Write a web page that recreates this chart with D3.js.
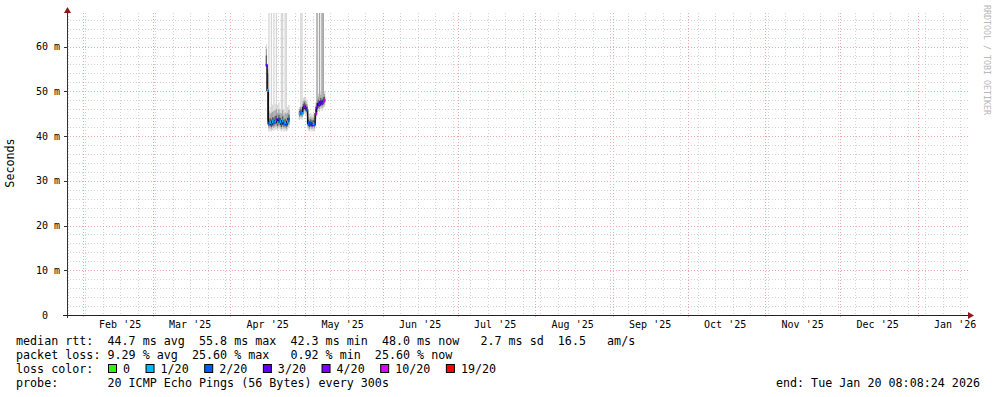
<!DOCTYPE html>
<html><head><meta charset="utf-8">
<script src="https://cdn.jsdelivr.net/npm/d3@7"></script>
<style>
body{margin:0;background:#fff}
svg text{font-family:'DejaVu Sans Mono',monospace;white-space:pre}
</style>
</head><body>
<svg id="c" width="997" height="397"></svg>
<script>
// ---------- data ----------
const startTime = "2025-01-25T08:08:24";
const endTime   = "2026-01-20T08:08:24";
const yMaxMs = 67.5;
const yTicks = [0, 10, 20, 30, 40, 50, 60];
const yTickLabels = ["0  ", "10 m", "20 m", "30 m", "40 m", "50 m", "60 m"];
const monthTicks = ["2025-02-01","2025-03-01","2025-04-01","2025-05-01","2025-06-01","2025-07-01","2025-08-01","2025-09-01","2025-10-01","2025-11-01","2025-12-01","2026-01-01"];
const monthLabels = ["Feb '25","Mar '25","Apr '25","May '25","Jun '25","Jul '25","Aug '25","Sep '25","Oct '25","Nov '25","Dec '25","Jan '26"];

const stepHours = 12;
const times = [
 "2025-04-15T06:00","2025-04-15T18:00","2025-04-16T06:00","2025-04-16T18:00","2025-04-17T06:00","2025-04-17T18:00",
 "2025-04-18T06:00","2025-04-18T18:00","2025-04-19T06:00","2025-04-19T18:00","2025-04-20T06:00","2025-04-20T18:00",
 "2025-04-21T06:00","2025-04-21T18:00","2025-04-22T06:00","2025-04-22T18:00","2025-04-23T06:00","2025-04-23T18:00",
 "2025-04-24T06:00","2025-04-24T18:00",
 "2025-04-28T12:00","2025-04-29T00:00","2025-04-29T12:00","2025-04-30T00:00","2025-04-30T12:00","2025-05-01T00:00",
 "2025-05-01T12:00","2025-05-02T00:00","2025-05-02T12:00","2025-05-03T00:00","2025-05-03T12:00","2025-05-04T00:00",
 "2025-05-04T12:00","2025-05-05T00:00","2025-05-05T12:00","2025-05-06T00:00","2025-05-06T12:00","2025-05-07T00:00",
 "2025-05-07T12:00","2025-05-08T00:00","2025-05-08T12:00"
];
// median rtt (ms); null = no data
const median = [
 55.8, 50.2, 42.8, 43.0, 42.6, 43.2, 43.0, 43.4, 43.6, 43.0, 43.8, 43.2, 42.7, 43.4, 42.8, 43.0, 42.6, 43.2, 43.8, null,
 45.0, 45.2, 45.0, 46.3, 46.6, 46.2, 45.8, 42.8, 42.5, 42.9, 42.5, 42.8, 42.6, 45.0, 46.4, 47.2, 47.0, 47.6, 47.3, 47.8, 48.0
];
// lost pings out of 20
const loss = [
 3, 1, 2, 1, 2, 1, 2, 1, 3, 1, 2, 1, 2, 1, 2, 1, 2, 1, 2, 0,
 1, 2, 1, 3, 4, 3, 2, 2, 4, 2, 3, 1, 2, 10, 4, 3, 4, 3, 4, 2, 10
];
// smoke: outer (light) band
const smokeLo = [
 55.5, 42.5, 41.0, 41.2, 41.0, 41.3, 41.2, 41.4, 41.5, 41.2, 41.6, 41.3, 41.0, 41.4, 41.0, 41.2, 41.0, 41.3, 41.8, null,
 43.6, 43.8, 43.6, 44.8, 45.0, 44.8, 44.4, 41.2, 41.0, 41.3, 41.0, 41.2, 41.0, 43.5, 44.8, 45.6, 45.4, 46.0, 45.6, 46.2, 46.5
];
const smokeHi = [
 60.5, 56.0, 68.0, 46.5, 68.0, 47.0, 68.0, 47.2, 68.0, 47.0, 47.5, 46.0, 68.0, 68.0, 46.0, 68.0, 68.0, 46.5, 47.0, null,
 46.5, 68.0, 68.0, 48.5, 48.8, 48.5, 48.0, 45.0, 45.0, 45.2, 44.8, 45.0, 44.8, 47.5, 68.0, 49.5, 68.0, 50.0, 68.0, 68.0, 50.0
];
// smoke: middle band
const midLo = [
 55.7, 43.0, 41.7, 41.9, 41.6, 42.0, 41.8, 42.1, 42.2, 41.8, 42.3, 42.0, 41.6, 42.1, 41.7, 41.8, 41.6, 42.0, 42.5, null,
 44.2, 44.4, 44.2, 45.4, 45.7, 45.4, 45.0, 41.9, 41.6, 42.0, 41.6, 41.9, 41.7, 44.1, 45.4, 46.3, 46.0, 46.6, 46.3, 46.8, 47.0
];
const midHi = [
 59.5, 55.0, 45.5, 45.0, 45.2, 45.4, 45.6, 45.8, 46.0, 45.2, 46.0, 45.2, 45.0, 45.8, 44.8, 45.2, 45.0, 45.2, 45.8, null,
 46.0, 46.6, 46.2, 47.8, 48.0, 47.8, 47.2, 44.2, 44.0, 44.3, 44.0, 44.2, 44.0, 46.6, 68.0, 48.8, 68.0, 49.2, 68.0, 68.0, 49.4
];
// smoke: dense core band
const coreLo = [
 55.8, 43.5, 42.2, 42.4, 42.0, 42.5, 42.3, 42.7, 42.8, 42.3, 42.9, 42.5, 42.0, 42.7, 42.1, 42.3, 42.0, 42.5, 43.0, null,
 44.6, 44.8, 44.6, 45.8, 46.1, 45.8, 45.4, 42.3, 42.0, 42.4, 42.0, 42.3, 42.1, 44.5, 45.9, 46.7, 46.5, 47.1, 46.8, 47.3, 47.5
];
const coreHi = [
 58.0, 54.0, 43.8, 44.0, 43.7, 44.2, 44.1, 44.5, 44.6, 43.9, 44.8, 44.1, 43.6, 44.4, 43.6, 43.9, 43.5, 44.1, 44.8, null,
 45.6, 46.0, 45.7, 47.2, 47.5, 47.1, 46.6, 43.6, 43.4, 43.7, 43.4, 43.6, 43.4, 46.0, 47.4, 48.1, 47.9, 48.5, 48.2, 48.7, 48.8
];

const lossClasses = [0, 1, 2, 3, 4, 10, 19];
const lossLabels = ["0", "1/20", "2/20", "3/20", "4/20", "10/20", "19/20"];
const lossColors = ["#26ff00", "#00b8ff", "#0059ff", "#5e00ff", "#7e00ff", "#dd00ff", "#ff0000"];

const legendRtt  = "median rtt:  44.7 ms avg  55.8 ms max  42.3 ms min  48.0 ms now   2.7 ms sd  16.5   am/s";
const legendLoss = "packet loss: 9.29 % avg  25.60 % max   0.92 % min  25.60 % now";
const legendProbe = "probe:       20 ICMP Echo Pings (56 Bytes) every 300s";
const legendEnd = "end: Tue Jan 20 08:08:24 2026";

// ---------- drawing ----------
const svg = d3.select("#c");
const X0 = 67, X1 = 967, Y0 = 315, Y1 = 13;
const x = d3.scaleTime().domain([new Date(startTime), new Date(endTime)]).range([66, 966]);
const y = d3.scaleLinear().domain([0, yMaxMs]).range([Y0, Y1]);
const pt = s => new Date(s);
const lf = 11.7;

// grid
const grid = svg.append("g");
const minorY = d3.range(2, yMaxMs, 2).filter(v => v % 10 !== 0);
grid.selectAll(".hy").data(minorY).enter().append("line")
  .attr("x1", X0).attr("x2", X1 + 1).attr("y1", d => Math.round(y(d)) + 0.5).attr("y2", d => Math.round(y(d)) + 0.5)
  .attr("stroke", "#d2d2d2").attr("stroke-dasharray", "1,2");
const weeks = d3.timeSunday.range(new Date(startTime), new Date(endTime));
grid.selectAll(".vx").data(weeks).enter().append("line")
  .attr("x1", d => Math.round(x(d)) + 0.5).attr("x2", d => Math.round(x(d)) + 0.5).attr("y1", Y1).attr("y2", Y0)
  .attr("stroke", "#d2d2d2").attr("stroke-dasharray", "1,2");
grid.selectAll(".my").data(yTicks.slice(1)).enter().append("line")
  .attr("x1", X0 - 3).attr("x2", X1 + 1).attr("y1", d => Math.round(y(d)) + 0.5).attr("y2", d => Math.round(y(d)) + 0.5)
  .attr("stroke", "#eaa8a8").attr("stroke-dasharray", "1,2");
grid.selectAll(".mx").data(monthTicks).enter().append("line")
  .attr("x1", d => Math.round(x(pt(d))) + 0.5).attr("x2", d => Math.round(x(pt(d))) + 0.5).attr("y1", Y1).attr("y2", Y0 + 3)
  .attr("stroke", "#eaa8a8").attr("stroke-dasharray", "1,2");

// smoke
const stepMs = stepHours * 3600e3;
const rows = times.map((t, i) => ({
  t0: pt(t), t1: new Date(pt(t).getTime() + stepMs), m: median[i], l: loss[i],
  sLo: smokeLo[i], sHi: smokeHi[i], mLo: midLo[i], mHi: midHi[i], cLo: coreLo[i], cHi: coreHi[i]
})).filter(d => d.m !== null);
const yc = v => y(Math.min(v, yMaxMs));
const dg = svg.append("g");
function band(lo, hi, color) {
  dg.append("g").selectAll("rect").data(rows).enter().append("rect")
    .attr("x", d => x(d.t0)).attr("width", d => x(d.t1) - x(d.t0))
    .attr("y", d => yc(d[hi])).attr("height", d => yc(d[lo]) - yc(d[hi]))
    .attr("fill", color);
}
band("sLo", "sHi", "#d6d6d6");
band("mLo", "mHi", "#a4a4a4");
band("cLo", "cHi", "#5c5c5c");

// median line
const linePts = [];
times.forEach((t, i) => {
  if (median[i] === null) { linePts.push(null); return; }
  linePts.push({ x: x(pt(t)), y: y(median[i]) });
  if (i === times.length - 1 || median[i + 1] === null)
    linePts.push({ x: x(new Date(pt(t).getTime() + stepMs)), y: y(median[i]) });
});
dg.append("path").datum(linePts)
  .attr("d", d3.line().defined(d => d !== null).x(d => d.x).y(d => d.y).curve(d3.curveStepAfter))
  .attr("fill", "none").attr("stroke", "#111").attr("stroke-width", 1.5);
const lossColor = l => { let c = lossColors[0]; lossClasses.forEach((k, j) => { if (l >= k) c = lossColors[j]; }); return c; };
dg.append("g").selectAll("rect").data(rows).enter().append("rect")
  .attr("x", d => x(d.t0)).attr("width", d => x(d.t1) - x(d.t0) + 0.3)
  .attr("y", d => y(d.m) - 1.5).attr("height", 3)
  .attr("fill", d => lossColor(d.l));

// axes
const ax = svg.append("g");
ax.append("line").attr("x1", X0 + 0.5).attr("x2", X0 + 0.5).attr("y1", Y1).attr("y2", Y0 + 3).attr("stroke", "#333");
ax.append("line").attr("x1", X0 - 4).attr("x2", X1 + 1).attr("y1", Y0 + 0.5).attr("y2", Y0 + 0.5).attr("stroke", "#222");
ax.selectAll(".yt").data(yTicks.slice(1)).enter().append("line")
  .attr("x1", X0 - 3).attr("x2", X0).attr("y1", d => Math.round(y(d)) + 0.5).attr("y2", d => Math.round(y(d)) + 0.5)
  .attr("stroke", "#333");
ax.append("path").attr("d", `M${X0 - 3},${Y1} L${X0 + 4},${Y1} L${X0 + 0.5},${Y1 - 6} Z`).attr("fill", "#8b1a1a");
ax.append("path").attr("d", `M${X1 + 1},${Y0 - 3} L${X1 + 1},${Y0 + 4} L${X1 + 7},${Y0 + 0.5} Z`).attr("fill", "#8b1a1a");

ax.selectAll(".yl").data(yTicks).enter().append("text")
  .attr("x", 60).attr("y", d => y(d) + 3.5).attr("text-anchor", "end")
  .attr("font-size", 10).attr("fill", "#000").text((d, i) => yTickLabels[i]);
ax.selectAll(".xl").data(monthTicks).enter().append("text")
  .attr("x", d => x(d3.timeDay.offset(pt(d), 15))).attr("y", 328).attr("text-anchor", "middle")
  .attr("font-size", 10).attr("fill", "#000").text((d, i) => monthLabels[i]);

svg.append("text").attr("transform", "translate(14,163) rotate(-90)").attr("text-anchor", "middle")
  .attr("font-size", lf).attr("fill", "#000").text("Seconds");
svg.append("text").attr("transform", "translate(984,5) rotate(90)").attr("text-anchor", "start")
  .attr("font-size", 8.3).attr("fill", "#b8b8b8").text("RRDTOOL / TOBI OETIKER");

// legend
const lg = svg.append("g").attr("font-size", lf).attr("fill", "#000");
lg.append("text").attr("x", 16).attr("y", 345).text(legendRtt);
lg.append("text").attr("x", 16).attr("y", 359).text(legendLoss);
lg.append("text").attr("x", 16).attr("y", 373).text("loss color:");
let sx = 108;
lossLabels.forEach((lab, j) => {
  lg.append("rect").attr("x", sx + 0.5).attr("y", 364.5).attr("width", 8).attr("height", 8)
    .attr("fill", lossColors[j]).attr("stroke", "#000");
  lg.append("text").attr("x", sx + 15).attr("y", 373).text(lab);
  sx += 15 + lab.length * 7.04 + 15.5;
});
lg.append("text").attr("x", 16).attr("y", 387).text(legendProbe);
lg.append("text").attr("x", 980).attr("y", 387).attr("text-anchor", "end").text(legendEnd);
</script>
</body></html>
